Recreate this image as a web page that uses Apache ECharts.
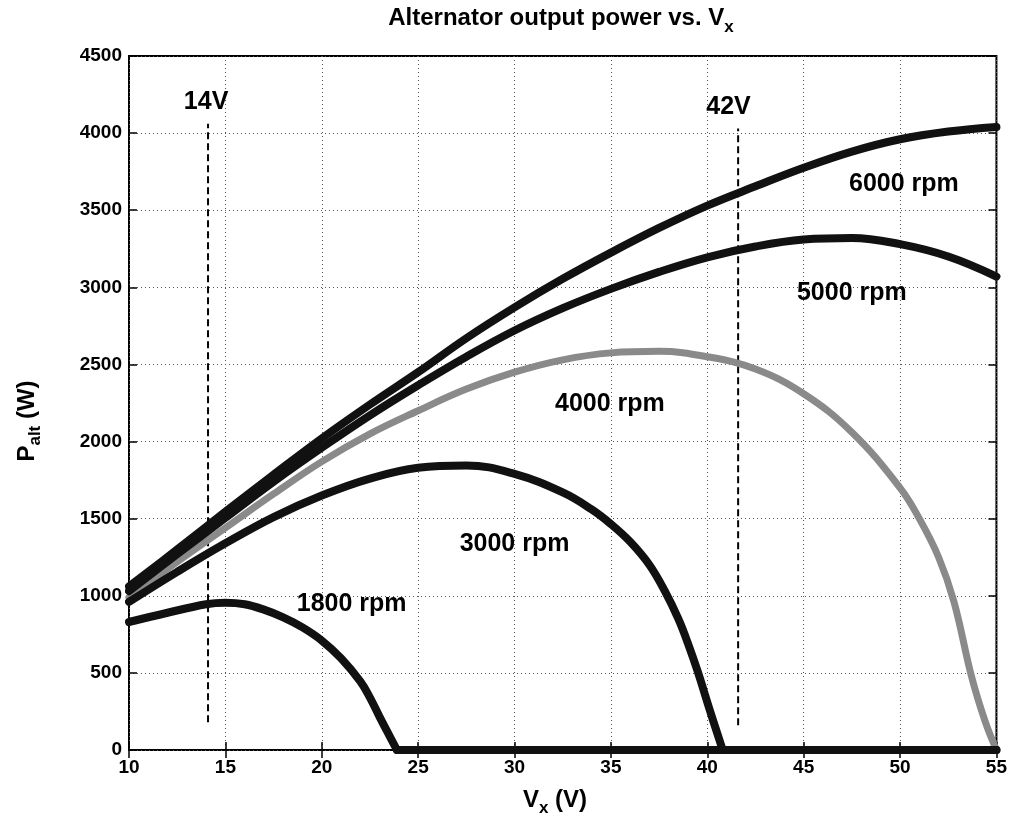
<!DOCTYPE html>
<html><head><meta charset="utf-8">
<script src="https://cdn.jsdelivr.net/npm/echarts@6/dist/echarts.min.js"></script>
<style>html,body{margin:0;padding:0;background:#fff}#c{width:1010px;height:829px}</style>
</head><body><div id="c"></div>
<script>
const rpm6000 = [[10,1060],[12.5,1300],[15,1545],[17.5,1785],[20,2020],[22.5,2240],[25,2450],[27.5,2670],[30,2870],[32.5,3055],[35,3225],[37.5,3385],[40,3530],[42.5,3655],[45,3775],[47.5,3880],[50,3960],[52.5,4010],[55,4040]];
const rpm5000 = [[10,1030],[12.5,1270],[15,1505],[17.5,1740],[20,1960],[22.5,2170],[25,2365],[27.5,2550],[30,2720],[32.5,2865],[35,2990],[37.5,3100],[40,3195],[42.5,3265],[45,3310],[47.5,3320],[50,3280],[52.5,3200],[55,3070]];
const rpm4000 = [[10,990],[12.5,1220],[15,1440],[17.5,1660],[20,1870],[22.5,2050],[25,2200],[27.5,2340],[30,2450],[32.5,2530],[35,2575],[37.5,2585],[40,2550],[42.5,2470],[45,2310],[47.5,2060],[50,1700],[51,1500],[52,1250],[52.8,960],[53.7,480],[54.4,190],[55,0]];
const rpm3000 = [[10,960],[12.5,1155],[15,1340],[17.5,1510],[20,1650],[22.5,1760],[25,1830],[27.5,1845],[30,1790],[32.5,1670],[34,1560],[35,1465],[36,1350],[37,1200],[37.8,1030],[38.5,850],[39,690],[39.5,510],[40.1,270],[40.8,0],[45,0],[50,0],[55,0]];
const rpm1800 = [[10,830],[12,890],[14,945],[15,955],[16,945],[17,910],[18,860],[19,795],[20,710],[21,595],[22,445],[22.5,340],[23,215],[23.5,95],[23.9,0],[30,0],[40,0],[55,0]];
const dash14 = [[14.1,180],[14.1,4060]];
const dash42 = [[41.6,160],[41.6,4030]];
const labelTexts = ['14V','42V','6000 rpm','5000 rpm','4000 rpm','3000 rpm','1800 rpm'];
const labelPos = [[14.0,4200],[41.1,4170],[50.2,3670],[47.5,2965],[34.95,2245],[30.0,1335],[21.55,945]];

const FF = '"Liberation Sans", Arial, Helvetica, sans-serif';
const chart = echarts.init(document.getElementById('c'));
const tick = {inside:true, length:8, lineStyle:{color:'#000', width:1.5}};
const split = {show:true, lineStyle:{color:'#555', type:[1,3], width:1}};
function lineSeries(data, color, w, z, sm){
  return {type:'line', data:data, symbol:'none', showSymbol:false, smooth:sm,
    lineStyle:{color:color, width:w, cap:'round', join:'round'}, z:z, silent:true, clip:true};
}
// draw the rising/falling part smoothly and the flat zero tail straight
function curve(arr, color, w, z){
  let idx = -1;
  for (let i = 0; i < arr.length; i++) { if (arr[i][1] === 0) { idx = i; break; } }
  if (idx < 0 || idx === arr.length - 1) return [lineSeries(arr, color, w, z, 0.4)];
  return [lineSeries(arr.slice(0, idx + 1), color, w, z, 0.4), lineSeries(arr.slice(idx), color, w, z, false)];
}
function dash(data){
  return {type:'line', data:data, symbol:'none', showSymbol:false, lineStyle:{color:'#000', width:2, type:[7,4]}, z:1, silent:true};
}
const numFmt = function(v){ return String(v); };
chart.setOption({
  animation:false,
  backgroundColor:'#fff',
  grid:{left:129, right:9, top:56, bottom:79, show:true, borderColor:'#000', borderWidth:2, backgroundColor:'transparent'},
  xAxis:[
    {type:'value', min:10, max:55, interval:5, position:'bottom', axisLine:{show:false}, axisTick:tick,
     axisLabel:{color:'#000', fontSize:19, fontWeight:'bold', fontFamily:FF, margin:8, showMinLabel:true, showMaxLabel:true, formatter:numFmt},
     splitLine:split},
    {type:'value', min:10, max:55, interval:5, position:'top', axisLine:{show:false}, axisTick:tick,
     axisLabel:{show:false}, splitLine:{show:false}}
  ],
  yAxis:[
    {type:'value', min:0, max:4500, interval:500, position:'left', axisLine:{show:false}, axisTick:tick,
     axisLabel:{color:'#000', fontSize:19, fontWeight:'bold', fontFamily:FF, margin:7, showMinLabel:true, showMaxLabel:true, formatter:numFmt},
     splitLine:split},
    {type:'value', min:0, max:4500, interval:500, position:'right', axisLine:{show:false}, axisTick:tick,
     axisLabel:{show:false}, splitLine:{show:false}}
  ],
  series:[].concat(
    [dash(dash14), dash(dash42)],
    curve(rpm4000, '#8a8a8a', 7, 2),
    curve(rpm6000, '#111', 8, 3),
    curve(rpm5000, '#111', 8, 3),
    curve(rpm3000, '#111', 8, 3),
    curve(rpm1800, '#111', 8, 3),
    [{type:'scatter', data:labelPos, symbolSize:1, itemStyle:{color:'transparent'}, z:5, silent:true,
     label:{show:true, position:'inside', color:'#000', opacity:1, textBorderWidth:0, fontSize:25, fontWeight:'bold', fontFamily:FF,
       formatter:function(p){return labelTexts[p.dataIndex];}}}]
  ),
  graphic:[
    {type:'text', x:561, y:18, z:10, style:{text:'{a|Alternator output power vs. V}{s|x}', align:'center', verticalAlign:'middle',
      rich:{a:{fontSize:24, fontWeight:'bold', fontFamily:FF, lineHeight:36, fill:'#000'},
            s:{fontSize:17, fontWeight:'bold', fontFamily:FF, lineHeight:16, verticalAlign:'bottom', fill:'#000'}}}},
    {type:'text', x:555, y:800, z:10, style:{text:'{a|V}{s|x}{a| (V)}', align:'center', verticalAlign:'middle',
      rich:{a:{fontSize:24, fontWeight:'bold', fontFamily:FF, lineHeight:34, fill:'#000'},
            s:{fontSize:17, fontWeight:'bold', fontFamily:FF, lineHeight:16, verticalAlign:'bottom', fill:'#000'}}}},
    {type:'text', x:27, y:421, rotation:Math.PI/2, z:10, style:{text:'{a|P}{s|alt}{a| (W)}', align:'center', verticalAlign:'middle',
      rich:{a:{fontSize:24, fontWeight:'bold', fontFamily:FF, lineHeight:34, fill:'#000'},
            s:{fontSize:17, fontWeight:'bold', fontFamily:FF, lineHeight:16, verticalAlign:'bottom', fill:'#000'}}}}
  ]
});
</script>
</body></html>
